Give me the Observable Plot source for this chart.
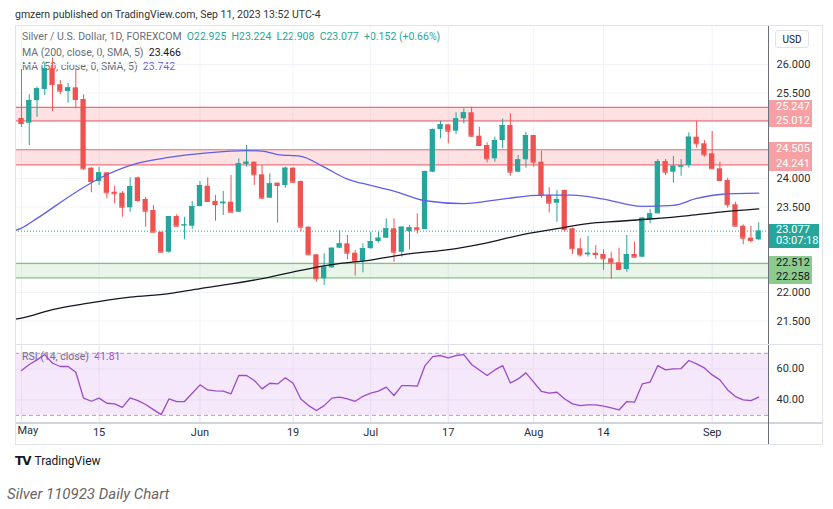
<!DOCTYPE html>
<html>
<head>
<meta charset="utf-8">
<script src="https://cdn.jsdelivr.net/npm/d3@7"></script>
<script src="https://cdn.jsdelivr.net/npm/@observablehq/plot@0.6"></script>
<style>
  html, body { margin: 0; padding: 0; background: #fff; }
  #page { position: relative; width: 833px; height: 509px; overflow: hidden; font-family: Roboto, "Open Sans", sans-serif; color: #131722; }
  .abs { position: absolute; white-space: nowrap; }
  #clip { position: absolute; left: 15px; top: 25px; width: 808px; height: 420px; overflow: hidden; }
  #clip svg { position: absolute; max-width: none; }
</style>
</head>
<body>
<div id="page"></div>
<script>
// ---------- data ----------
const tickIndex  = [0, 10, 23, 35, 45, 55, 66, 75, 89];
const tickLabels = ["May", "15", "Jun", "19", "Jul", "17", "Aug", "14", "Sep"];

const opens = [25.053,24.970,25.368,25.561,25.925,25.644,25.526,25.591,25.386,24.181,
  23.947,24.100,23.760,23.742,23.486,24.012,23.632,23.439,23.058,22.707,
  23.333,23.170,23.163,23.509,23.865,23.600,23.556,23.584,23.409,24.246,
  24.286,24.065,23.654,23.918,23.877,24.181,23.947,23.146,22.661,22.240,
  22.433,22.777,22.854,22.689,22.549,22.770,22.895,22.953,23.118,22.707,
  23.070,23.135,23.105,24.111,24.860,24.942,24.830,25.047,25.153,24.742,
  24.579,24.346,24.667,24.930,24.111,24.328,24.754,24.286,23.702,23.567,
  23.789,23.118,22.767,22.661,22.689,22.667,22.591,22.521,22.404,22.667,
  22.619,23.281,23.381,24.298,24.111,24.200,24.228,24.725,24.609,24.433,
  24.170,23.965,23.539,23.163,22.953,22.925];
const highs = [25.912,25.468,25.602,26.035,26.114,25.719,25.667,25.912,25.468,24.190,
  24.198,24.105,23.865,23.772,24.012,24.026,23.672,23.526,23.060,23.333,
  23.363,23.321,23.596,23.947,24.012,23.702,23.772,24.053,24.346,24.579,
  24.290,24.228,24.082,23.920,24.200,24.190,23.956,23.150,22.667,22.679,
  22.780,23.088,23.000,22.737,22.854,23.058,23.058,23.293,23.293,23.150,
  23.175,23.381,24.130,24.870,25.005,24.950,25.153,25.223,25.251,24.900,
  24.626,24.725,25.047,25.135,24.404,24.812,24.760,24.479,23.837,23.789,
  23.800,23.130,22.942,22.982,22.825,22.749,22.707,22.777,23.000,22.882,
  23.310,23.456,24.333,24.333,24.386,24.333,24.802,25.000,24.667,24.825,
  24.286,24.005,23.584,23.188,23.163,23.224];
const lows = [24.895,24.579,25.075,25.456,25.175,25.468,25.321,25.223,24.140,23.749,
  23.877,23.644,23.556,23.321,23.409,23.584,23.146,23.050,22.697,22.690,
  23.160,22.925,23.105,23.500,23.590,23.251,23.351,23.400,23.400,24.198,
  23.877,23.650,23.650,23.216,23.830,23.910,23.070,22.655,22.181,22.123,
  22.420,22.770,22.574,22.286,22.346,22.760,22.872,22.950,22.532,22.619,
  22.749,23.030,23.100,24.100,24.696,24.609,24.772,24.960,24.725,24.575,
  24.275,24.286,24.521,24.040,24.100,24.181,24.198,23.654,23.398,23.233,
  23.058,22.667,22.619,22.619,22.579,22.386,22.228,22.400,22.356,22.615,
  22.610,23.205,23.375,24.053,23.918,24.040,24.181,24.532,24.374,24.158,
  23.960,23.479,23.160,22.837,22.872,22.908];
const closes = [24.965,25.368,25.574,25.925,25.649,25.532,25.591,25.386,24.170,23.947,
  24.100,23.749,23.732,23.496,23.860,23.614,23.426,23.058,22.707,23.333,
  23.163,23.186,23.509,23.877,23.596,23.544,23.584,23.409,24.258,24.286,
  24.065,23.654,23.907,23.877,24.181,23.935,23.146,22.661,22.240,22.444,
  22.777,22.854,22.689,22.549,22.770,22.895,22.953,23.118,22.707,23.146,
  23.135,23.100,24.123,24.860,24.942,24.830,25.047,25.153,24.742,24.579,
  24.346,24.667,24.930,24.111,24.328,24.754,24.286,23.702,23.567,23.632,
  23.105,22.767,22.661,22.689,22.667,22.591,22.521,22.404,22.667,22.619,
  23.304,23.381,24.298,24.111,24.216,24.220,24.725,24.609,24.416,24.170,
  23.965,23.539,23.163,22.953,22.912,23.077];

const ma50Index = [-1, 0, 2, 7, 10, 15, 19, 24, 29, 31, 33, 36, 39, 42, 45, 48, 52, 57, 62, 67, 71, 75, 80, 84, 87, 90, 95];
const ma50Value = [23.08, 23.13, 23.30, 23.76, 24.00, 24.27, 24.37, 24.45, 24.49, 24.48, 24.42, 24.39, 24.20, 23.99, 23.88, 23.78, 23.61, 23.56, 23.64, 23.71, 23.71, 23.64, 23.51, 23.53, 23.65, 23.72, 23.742];
const ma200Index = [-1, 0, 4, 8, 14, 19, 23, 27, 32, 36, 40, 45, 49, 56, 60, 64, 69, 73, 77, 81, 86, 90, 95];
const ma200Value = [21.53, 21.55, 21.70, 21.80, 21.92, 21.98, 22.07, 22.15, 22.27, 22.39, 22.49, 22.57, 22.66, 22.77, 22.87, 23.00, 23.12, 23.21, 23.25, 23.29, 23.35, 23.41, 23.466];

const rsiValues = [58.9,62.8,65.8,69.2,63.6,61.5,61.5,57.8,41.1,39.1,
  41.1,37.8,37.4,35.2,41.3,39.5,37.0,33.7,30.5,40.6,
  38.9,38.9,44.3,49.7,46.4,45.8,45.6,43.9,55.7,55.7,
  52.5,47.1,50.7,50.3,54.2,50.7,40.6,36.3,33.1,36.3,
  41.1,41.7,40.6,39.1,42.3,44.3,45.6,48.2,42.8,49.2,
  49.2,48.8,62.1,67.9,68.6,67.1,68.6,69.2,62.8,59.3,
  55.7,59.3,62.1,50.9,53.5,57.4,51.4,45.4,44.3,44.9,
  40.6,37.4,36.3,36.8,36.8,35.9,34.8,33.5,38.9,38.5,
  50.3,51.4,62.1,59.3,60.0,60.2,65.4,63.2,60.6,56.1,
  52.9,46.4,42.1,40.0,39.5,41.81];

const priceTicks = [26, 25.5, 24, 23.5, 22, 21.5];
const priceGrid  = [26, 25.5, 25, 24.5, 24, 23.5, 23, 22.5, 22, 21.5];
const resistanceLow  = [25.012, 24.241];
const resistanceHigh = [25.247, 24.505];
const supportLow  = [22.258];
const supportHigh = [22.512];
const lastPrice = 23.077;
const countdown = "03:07:18";
const rsiTicks = [60, 40];
const rsiBand = [30, 70];
const ma200Last = 23.466, ma50Last = 23.742, rsiLast = 41.81;
const ohlcText = {O: "22.925", H: "23.224", L: "22.908", C: "23.077", chg: "+0.152 (+0.66%)"};

// ---------- build ----------
const UP = "#26a69a", DOWN = "#ef5350", MA50C = "#5f5fe6", RSIC = "#9a4cc8";
const FONT = "Roboto, 'Open Sans', sans-serif";
const xDomain = [-0.773, 96.26];
const candles = opens.map((o, i) => ({i, o, h: highs[i], l: lows[i], c: closes[i], up: closes[i] >= o}));
const ma50 = ma50Index.map((i, k) => ({i, v: ma50Value[k]}));
const ma200 = ma200Index.map((i, k) => ({i, v: ma200Value[k]}));
const resZones = resistanceLow.map((lo, k) => ({lo, hi: resistanceHigh[k]}));
const supZones = supportLow.map((lo, k) => ({lo, hi: supportHigh[k]}));
const col = d => d.up ? UP : DOWN;

const page = document.getElementById("page");
function el(html, css, parent) {
  const d = document.createElement("div");
  d.className = "abs";
  d.innerHTML = html;
  Object.assign(d.style, css);
  (parent || page).appendChild(d);
  return d;
}

el("gmzern published on TradingView.com, Sep 11, 2023 13:52 UTC-4",
   {left: "15px", top: "8px", fontSize: "10.5px", color: "#333"});

const clip = document.createElement("div");
clip.id = "clip";
page.appendChild(clip);
const OX = 15, OY = 25;

// legends (under the plots)
const gray = "#6a6d78";
el(`<span style="color:${gray}">Silver / U.S. Dollar, 1D, FOREXCOM</span>&nbsp;&nbsp;<span style="color:${UP}">O${ohlcText.O}&nbsp;&nbsp;H${ohlcText.H}&nbsp;&nbsp;L${ohlcText.L}&nbsp;&nbsp;C${ohlcText.C}&nbsp;&nbsp;${ohlcText.chg}</span>`,
   {left: (22 - OX) + "px", top: (30 - OY) + "px", fontSize: "10.5px", lineHeight: "14px"}, clip);
el(`<span style="color:${gray}">MA (200, close, 0, SMA, 5)</span>&nbsp;&nbsp;<span style="color:#131722">${ma200Last.toFixed(3)}</span>`,
   {left: (22 - OX) + "px", top: (45.5 - OY) + "px", fontSize: "10.5px", lineHeight: "14px"}, clip);
el(`<span style="color:${gray}">MA (50, close, 0, SMA, 5)</span>&nbsp;&nbsp;<span style="color:${MA50C}">${ma50Last.toFixed(3)}</span>`,
   {left: (22 - OX) + "px", top: (60 - OY) + "px", fontSize: "10.5px", lineHeight: "14px"}, clip);
el(`<span style="color:${gray}">RSI (14, close)</span>&nbsp;&nbsp;<span style="color:${RSIC}">${rsiLast.toFixed(2)}</span>`,
   {left: (22 - OX) + "px", top: (350 - OY) + "px", fontSize: "10.5px", lineHeight: "14px"}, clip);

const priceChart = Plot.plot({
  width: 833, height: 344,
  marginLeft: 15, marginRight: 65, marginTop: 26, marginBottom: 0,
  style: {background: "transparent", fontSize: "11px", fontFamily: FONT, color: "#2a2e39", maxWidth: "none", overflow: "visible"},
  x: {domain: xDomain, axis: null},
  y: {domain: [21.088, 26.667], axis: "right", ticks: priceTicks, tickFormat: d3.format(".3f"), tickSize: 0, tickPadding: 8, label: null},
  marks: [
    Plot.ruleY(priceGrid, {stroke: "#f0f3fa"}),
    Plot.ruleX(tickIndex, {stroke: "#f0f3fa"}),
    Plot.rect(resZones, {x1: () => xDomain[0], x2: () => xDomain[1], y1: "lo", y2: "hi", fill: "#f23645", fillOpacity: 0.15}),
    Plot.ruleY([...resistanceLow, ...resistanceHigh], {stroke: "#ee6f76", strokeWidth: 1.2}),
    Plot.rect(supZones, {x1: () => xDomain[0], x2: () => xDomain[1], y1: "lo", y2: "hi", fill: "#4caf50", fillOpacity: 0.13}),
    Plot.ruleY([...supportLow, ...supportHigh], {stroke: "#7cc47f", strokeWidth: 1.2}),
    Plot.ruleY([lastPrice], {stroke: UP, strokeDasharray: "1,2"}),
    Plot.ruleX(candles, {x: "i", y1: "l", y2: "h", stroke: col, strokeWidth: 1}),
    Plot.rect(candles, {x1: d => d.i - 0.34, x2: d => d.i + 0.34, y1: "o", y2: "c", fill: col}),
    Plot.ruleY(candles, {x1: d => d.i - 0.34, x2: d => d.i + 0.34, y: "c", stroke: col}),
    Plot.line(ma200, {x: "i", y: "v", stroke: "#131722", strokeWidth: 1.3, curve: "monotone-x", clip: true}),
    Plot.line(ma50, {x: "i", y: "v", stroke: MA50C, strokeWidth: 1.3, curve: "monotone-x", clip: true})
  ]
});
priceChart.style.left = -OX + "px";
priceChart.style.top = -OY + "px";
clip.appendChild(priceChart);

const RSI_TOP = 344;
const rsiChart = Plot.plot({
  width: 833, height: 101,
  marginLeft: 15, marginRight: 65, marginTop: 0, marginBottom: 23,
  style: {background: "transparent", fontSize: "11px", fontFamily: FONT, color: "#2a2e39", maxWidth: "none", overflow: "visible"},
  x: {domain: xDomain, ticks: tickIndex.slice(1), tickFormat: i => tickLabels[tickIndex.indexOf(i)], tickSize: 0, tickPadding: 6, label: null},
  y: {domain: [25.4, 75.7], axis: "right", ticks: rsiTicks, tickFormat: d3.format(".2f"), tickSize: 0, tickPadding: 8, label: null},
  marks: [
    Plot.rect([rsiBand], {x1: () => xDomain[0], x2: () => xDomain[1], y1: d => d[0], y2: d => d[1], fill: "#b44ee0", fillOpacity: 0.13}),
    Plot.ruleX(tickIndex, {stroke: "#eadcf3"}),
    Plot.ruleY(rsiTicks, {stroke: "#eadcf3"}),
    Plot.ruleY(rsiBand, {stroke: "#a7a9b0", strokeDasharray: "4,3"}),
    Plot.line(rsiValues, {x: (d, i) => i, y: d => d, stroke: RSIC, strokeWidth: 1.3}),
    // first month label kept inside the frame
    Plot.text([tickLabels[0]], {x: () => tickIndex[0], frameAnchor: "bottom", dy: 11, dx: -4, textAnchor: "start", fill: "currentColor"})
  ]
});
rsiChart.style.left = -OX + "px";
rsiChart.style.top = (RSI_TOP - OY) + "px";
clip.appendChild(rsiChart);

// separators
const sep = (css) => el("", Object.assign({background: "#e0e3eb"}, css));
sep({left: "15px", top: RSI_TOP + "px", width: "753px", height: "1px"});
sep({left: "15px", top: "422px", width: "808px", height: "2px", background: "#d1d4dc"});
sep({left: "768px", top: "25px", width: "1px", height: "420px", background: "#6b6e78"});
sep({left: "768px", top: RSI_TOP + "px", width: "55px", height: "1px", background: "#e0e3eb"});

// price labels from the y scale
const ys = priceChart.scale("y");
function tag(v1, v2, bg, fg, texts, h, w) {
  const y1 = ys.apply(v1), y2 = ys.apply(v2);
  const top = Math.min(y1, y2) - h / 2, bottom = Math.max(y1, y2) + h / 2;
  return el(texts.map(t => `<div>${t}</div>`).join(""),
    {left: "769px", top: top + "px", height: (bottom - top) + "px", width: w + "px", background: bg, color: fg,
     fontSize: "11px", lineHeight: h + "px", paddingLeft: "7px", boxSizing: "border-box", display: "flex",
     flexDirection: "column", justifyContent: "space-between"});
}
resZones.forEach(z => tag(z.hi, z.lo, "#f6a0a4", "#fff", [z.hi.toFixed(3), z.lo.toFixed(3)], 14, 43));
supZones.forEach(z => tag(z.hi, z.lo, "#8bcb8e", "#131722", [z.hi.toFixed(3), z.lo.toFixed(3)], 14, 43));
{
  const y = ys.apply(lastPrice);
  el(`<div>${lastPrice.toFixed(3)}</div><div>${countdown}</div>`,
    {left: "769px", top: (y - 7) + "px", width: "50px", height: "24px", background: UP, color: "#fff",
     fontSize: "11px", lineHeight: "11.5px", paddingLeft: "7px", boxSizing: "border-box"});
}

// USD button
el("USD", {left: "775px", top: "30px", width: "34px", height: "18px", fontSize: "10px", lineHeight: "18px",
  textAlign: "center", color: "#131722", border: "1px solid #e0e3eb", borderRadius: "3px", boxSizing: "border-box"});

// frame
el("", {left: "15px", top: "25px", width: "808px", height: "420px", border: "1px solid #e0e3eb", boxSizing: "border-box"});

// footer
el(`<span style="font-family:'DejaVu Sans';font-weight:bold;font-size:12px;letter-spacing:-1px">TV</span>&nbsp;<span style="font-size:12px;color:#131722">TradingView</span>`,
   {left: "15px", top: "452px", lineHeight: "16px"});
el("Silver 110923 Daily Chart", {left: "7px", top: "485px", fontSize: "15px", fontStyle: "italic", color: "#666", lineHeight: "18px"});
</script>
</body>
</html>
